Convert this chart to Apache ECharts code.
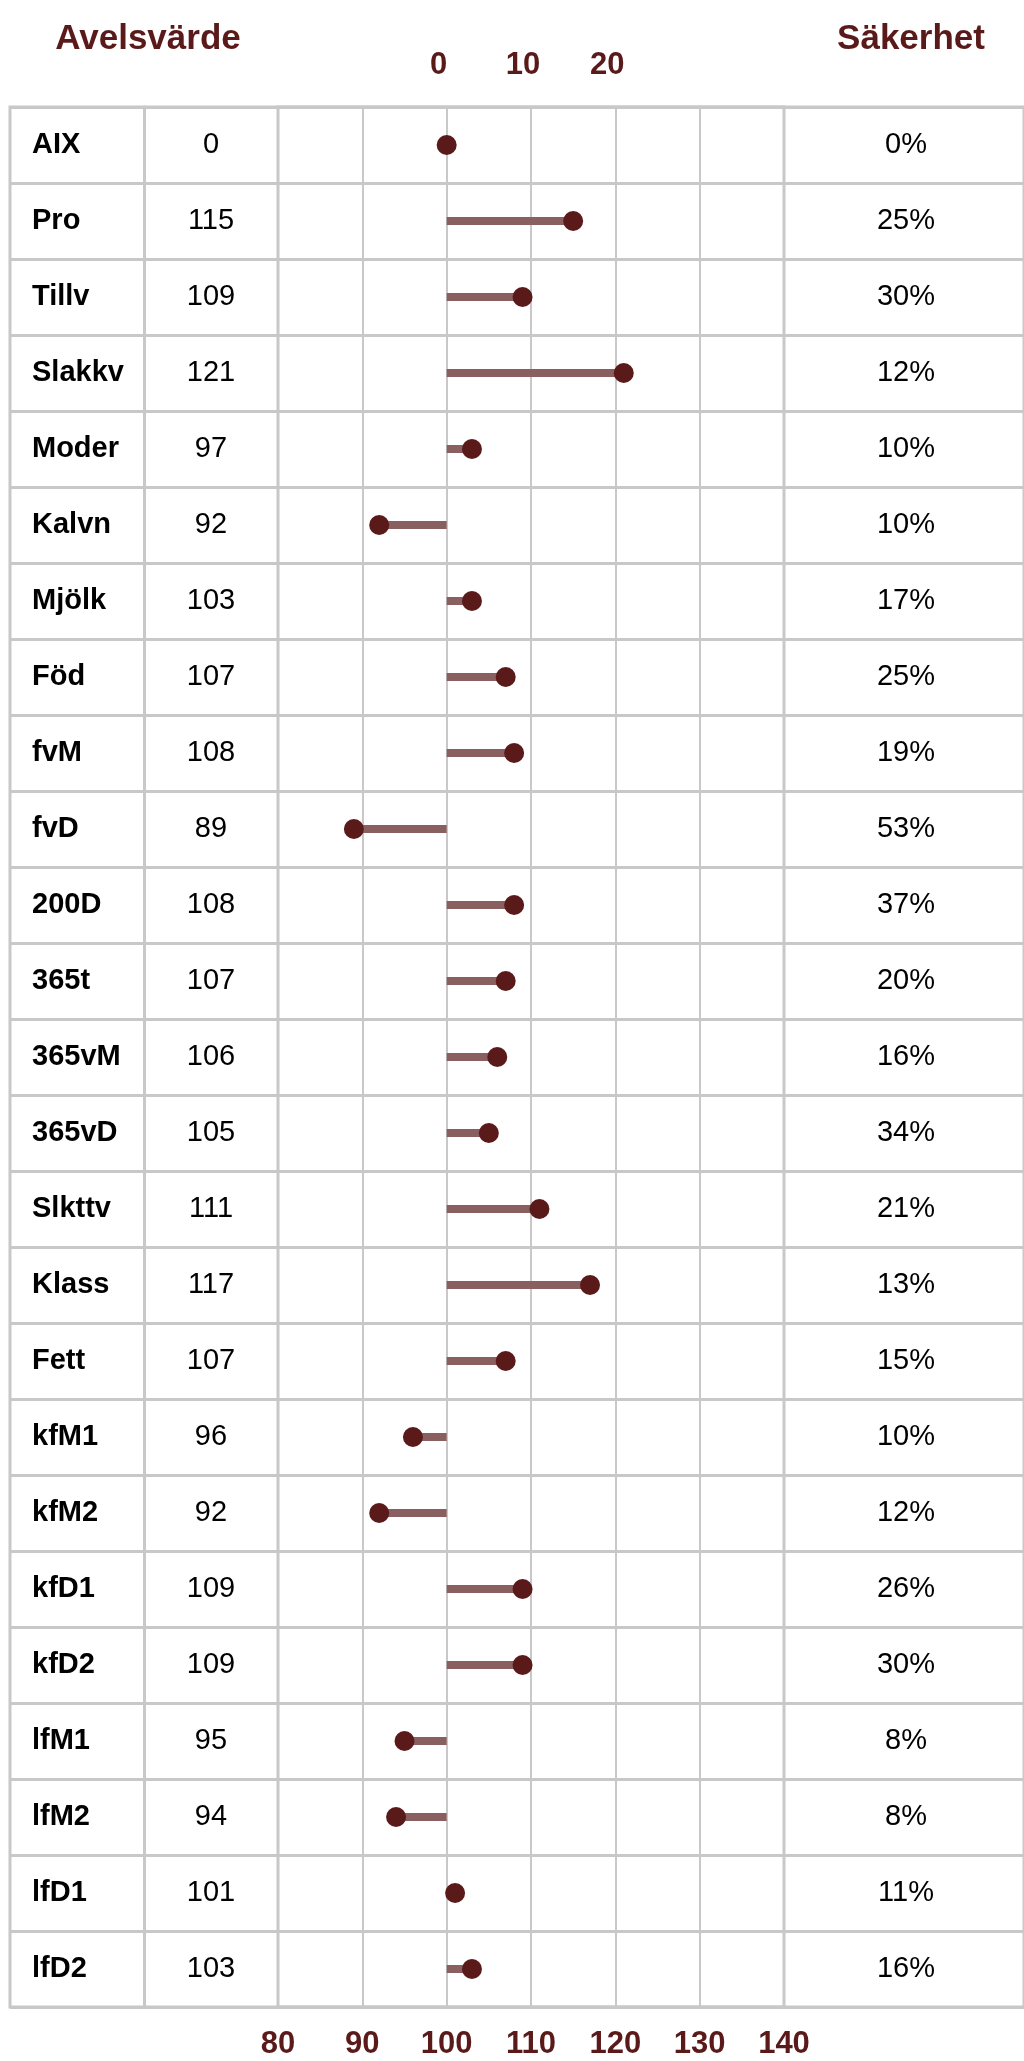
<!DOCTYPE html>
<html>
<head>
<meta charset="utf-8">
<title>Avelsvärde</title>
<script src="https://cdn.jsdelivr.net/npm/echarts@6/dist/echarts.min.js"></script>
<style>
  html, body { margin: 0; padding: 0; background: #fff; }
  #main { width: 1024px; height: 2061px; }
</style>
</head>
<body>
<div id="main"></div>
<script>
// egenskaper (rader i tabellen)
var traits = ['AIX', 'Pro', 'Tillv', 'Slakkv', 'Moder', 'Kalvn', 'Mjölk', 'Föd', 'fvM', 'fvD',
  '200D', '365t', '365vM', '365vD', 'Slkttv', 'Klass', 'Fett', 'kfM1', 'kfM2', 'kfD1',
  'kfD2', 'lfM1', 'lfM2', 'lfD1', 'lfD2'];
var avelsvarde = [0, 115, 109, 121, 97, 92, 103, 107, 108, 89,
  108, 107, 106, 105, 111, 117, 107, 96, 92, 109,
  109, 95, 94, 101, 103];
// punkternas läge som de syns i diagrammet (AIX på 100, Moder ritad vid 103)
var plotted = [100, 115, 109, 121, 103, 92, 103, 107, 108, 89,
  108, 107, 106, 105, 111, 117, 107, 96, 92, 109,
  109, 95, 94, 101, 103];
var sakerhet = [0, 25, 30, 12, 10, 10, 17, 25, 19, 53,
  37, 20, 16, 34, 21, 13, 15, 10, 12, 26,
  30, 8, 8, 11, 16];
var bottomTicks = [80, 90, 100, 110, 120, 130, 140];
var topTicks = [0, 10, 20];

var maroon = '#5b1a1a';
var gridGrey = '#c8c8c8';
var font = "'Liberation Sans', Arial, sans-serif";

var points = plotted.map(function (v, i) {
  return [v, i];
});

var myChart = echarts.init(document.getElementById('main'));

function rowAxis(extra) {
  var ax = {
    type: 'category',
    data: traits,
    inverse: true,
    gridIndex: 0,
    position: 'left',
    axisLine: { show: false },
    axisTick: { show: false },
    splitLine: { show: false },
    axisLabel: { show: false }
  };
  for (var k in extra) ax[k] = extra[k];
  return ax;
}

myChart.setOption({
  animation: false,
  textStyle: { fontFamily: font },
  title: [
    {
      text: 'Avelsvärde', left: 143, top: 17, textAlign: 'center',
      textStyle: { color: maroon, fontSize: 35, fontWeight: 'bold', fontFamily: font }
    },
    {
      text: 'Säkerhet', left: 906, top: 17, textAlign: 'center',
      textStyle: { color: maroon, fontSize: 35, fontWeight: 'bold', fontFamily: font }
    }
  ],
  grid: [
    { left: 10, right: -6, top: 107, bottom: 54, show: true, borderColor: gridGrey, borderWidth: 3 },
    { left: 278, right: 240, top: 107, bottom: 54, show: true, borderColor: gridGrey, borderWidth: 3 }
  ],
  xAxis: [
    { type: 'value', gridIndex: 0, show: false, min: 0, max: 1 },
    {
      type: 'value', gridIndex: 1, min: 80, max: 140, interval: 10,
      axisLine: { show: false },
      axisTick: { show: false },
      splitLine: { show: true, lineStyle: { color: gridGrey, width: 2 } },
      axisLabel: {
        margin: 22, color: maroon, fontSize: 31, fontWeight: 'bold', fontFamily: font,
        formatter: function (v) { return bottomTicks.indexOf(v) > -1 ? String(v) : ''; }
      }
    },
    {
      type: 'value', gridIndex: 1, position: 'top', min: -20, max: 40, interval: 10,
      axisLine: { show: false },
      axisTick: { show: false },
      splitLine: { show: false },
      axisLabel: {
        margin: 26, color: maroon, fontSize: 31, fontWeight: 'bold', fontFamily: font,
        padding: [0, 16, 0, 0],
        formatter: function (v) { return topTicks.indexOf(v) > -1 ? String(v) : ''; }
      }
    }
  ],
  yAxis: [
    // namn + radlinjer
    rowAxis({
      splitLine: { show: true, lineStyle: { color: gridGrey, width: 3 } },
      axisLabel: {
        show: true, inside: true, align: 'left', margin: 22,
        color: '#000', fontSize: 29, fontWeight: 'bold', fontFamily: font
      }
    }),
    // avelsvärde
    rowAxis({
      offset: -201,
      axisLabel: {
        show: true, align: 'center', margin: 0,
        color: '#000', fontSize: 29, fontFamily: font,
        formatter: function (v, i) { return String(avelsvarde[i]); }
      }
    }),
    // säkerhet
    rowAxis({
      offset: -896,
      axisLabel: {
        show: true, align: 'center', margin: 0,
        color: '#000', fontSize: 29, fontFamily: font,
        formatter: function (v, i) { return sakerhet[i] + '%'; }
      }
    }),
    // kolumnavdelare
    rowAxis({
      offset: -134,
      axisLine: { show: true, lineStyle: { color: gridGrey, width: 3 } }
    }),
    { type: 'category', data: traits, inverse: true, gridIndex: 1, show: false }
  ],
  series: [
    {
      type: 'custom',
      xAxisIndex: 1,
      yAxisIndex: 4,
      data: points,
      encode: { x: 0, y: 1 },
      renderItem: function (params, api) {
        var yIdx = api.value(1);
        var start = api.coord([100, yIdx]);
        var end = api.coord([api.value(0), yIdx]);
        return {
          type: 'line',
          shape: { x1: start[0], y1: start[1], x2: end[0], y2: end[1] },
          style: { stroke: '#8a5f5f', lineWidth: 8, lineCap: 'butt' }
        };
      },
      z: 3
    },
    {
      type: 'scatter',
      xAxisIndex: 1,
      yAxisIndex: 4,
      data: points,
      symbol: 'circle',
      symbolSize: 20,
      itemStyle: { color: maroon, opacity: 1 },
      z: 4
    }
  ]
});
</script>
</body>
</html>
